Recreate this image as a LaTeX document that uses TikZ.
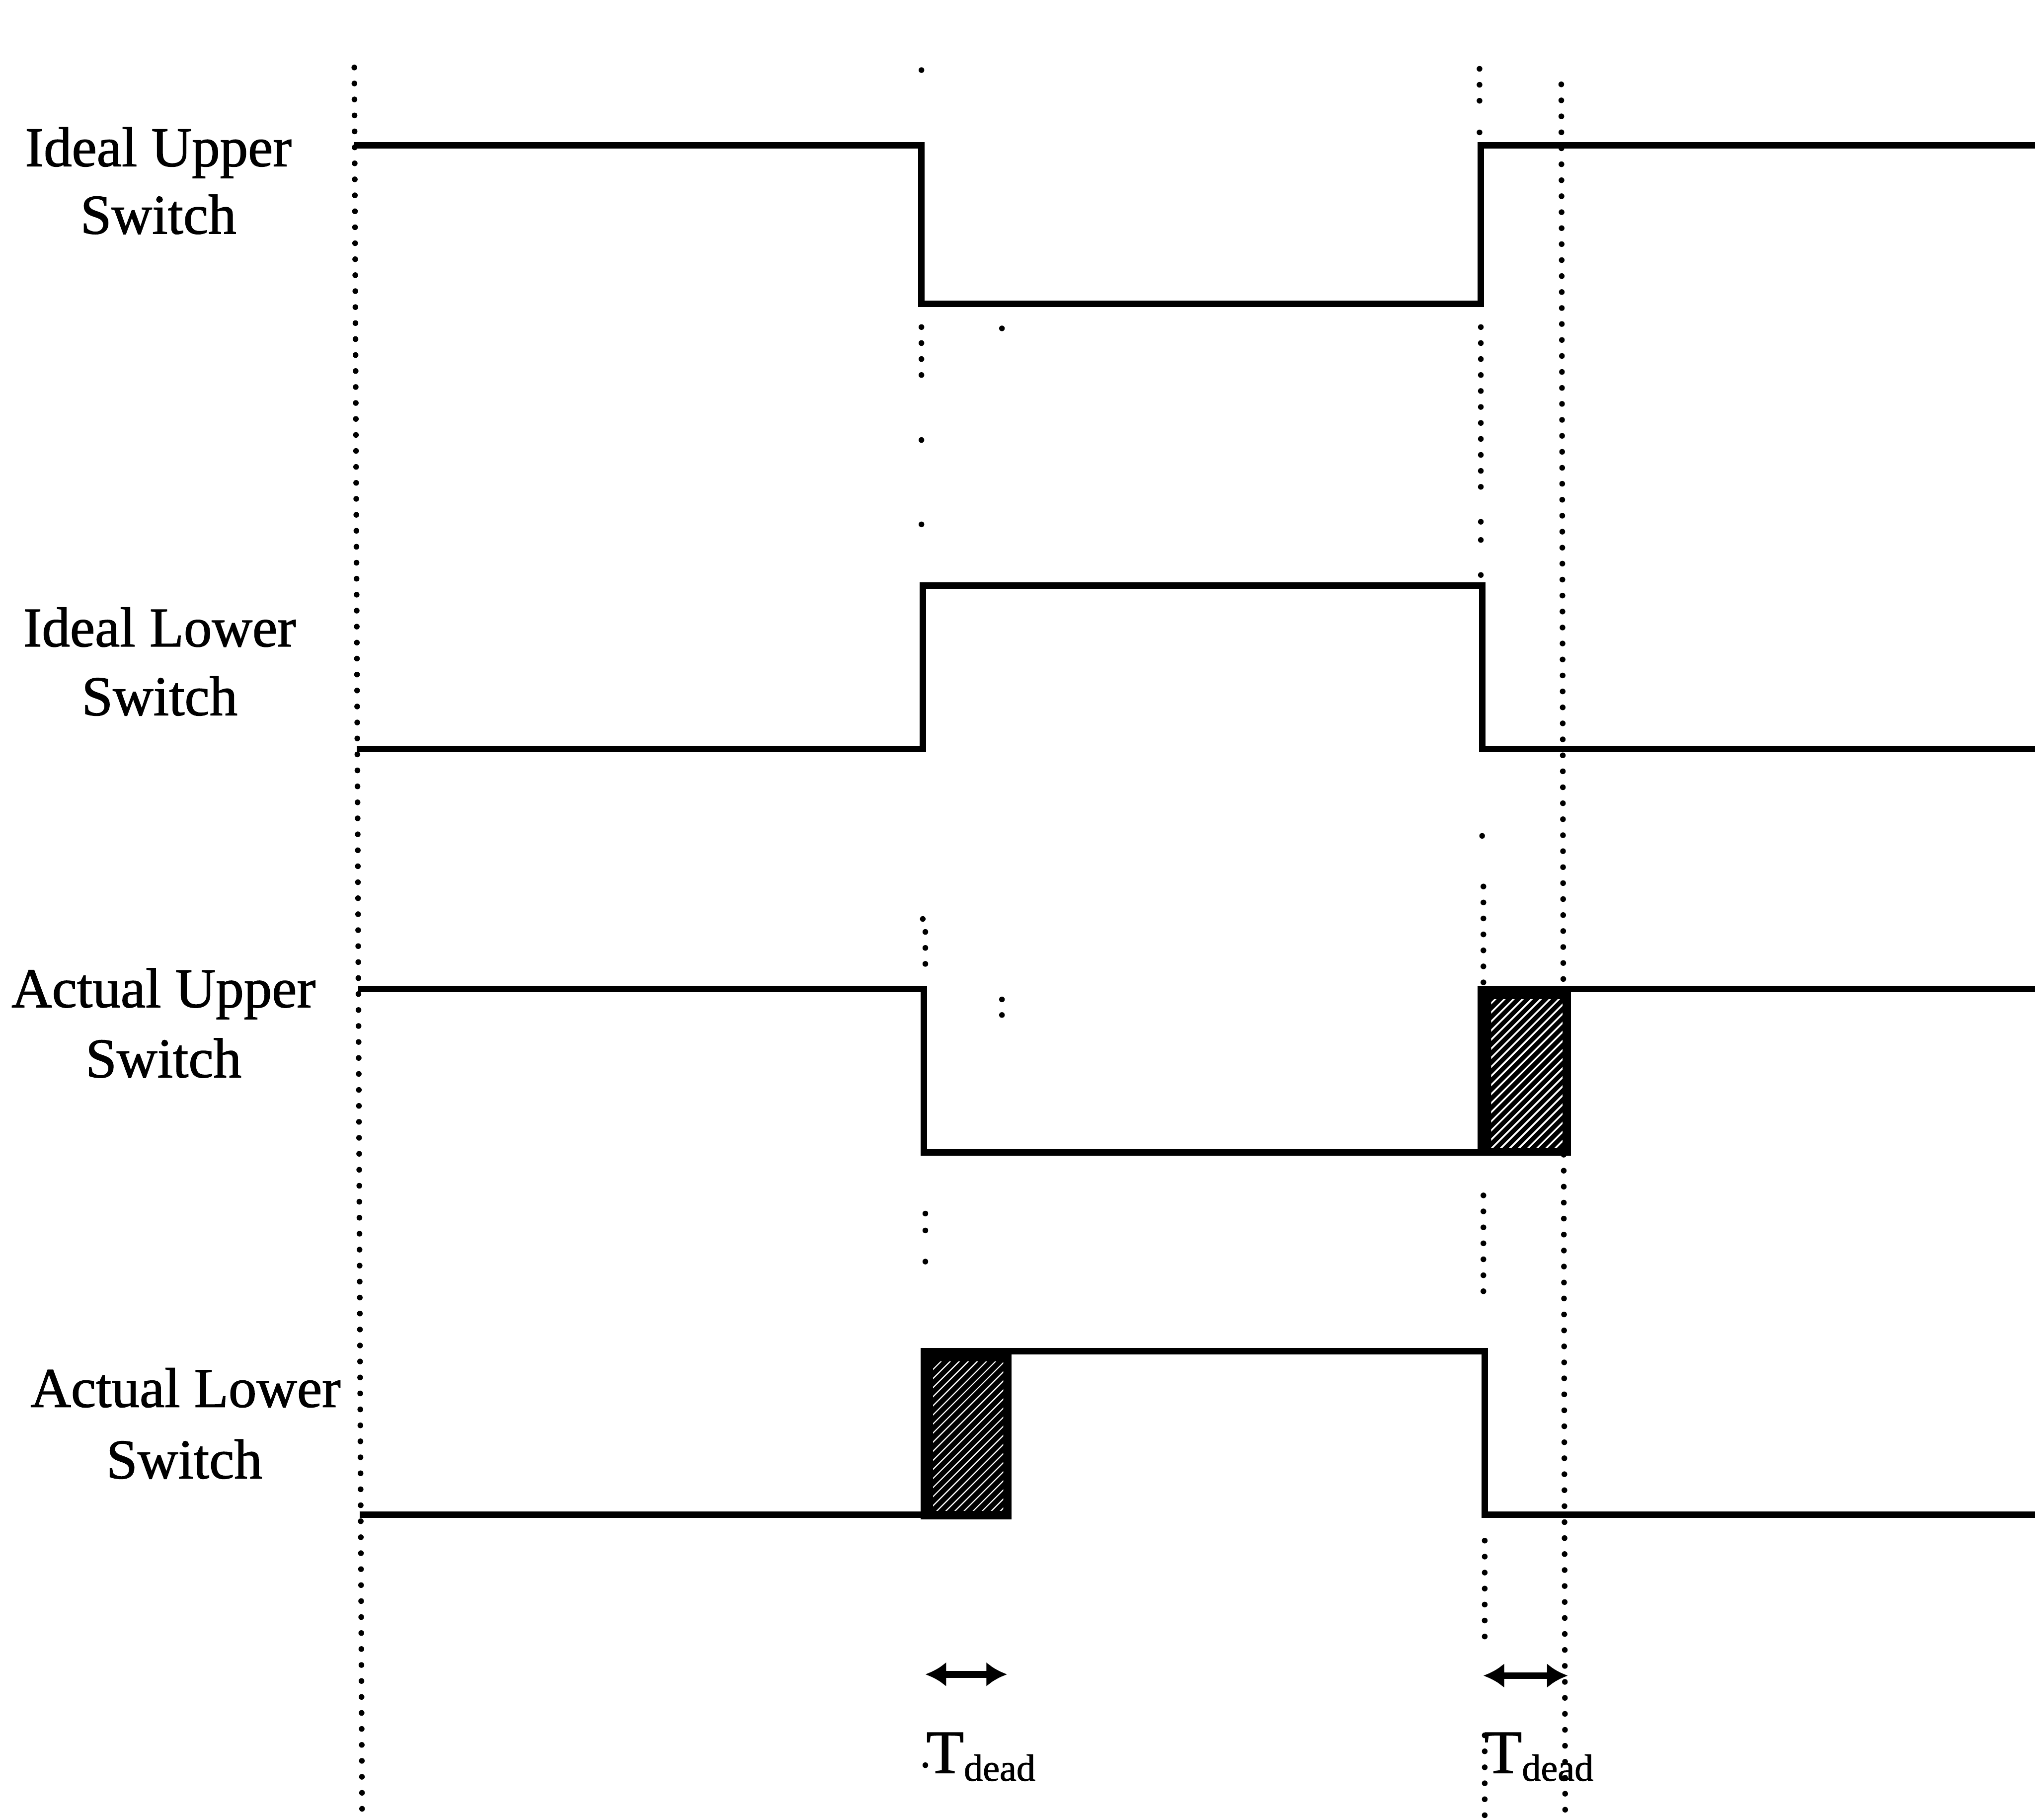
\documentclass[tikz,border=0pt]{standalone}
\usepackage{fontspec}
\setmainfont{Liberation Serif}[FakeBold=1.2]
\usetikzlibrary{arrows.meta}
\begin{document}
\begin{tikzpicture}[x=0.01cm,y=-0.01cm,
  wave/.style={line width=1.4pt, line join=miter},
  dotline/.style={line width=1.25pt, line cap=round, dash pattern=on 0pt off 3.5pt},
  dotmark/.style={fill=black},
  lbl/.style={anchor=base, inner sep=0pt, font=\fontsize{12.3}{15}\selectfont},
  tlbl/.style={anchor=base west, inner sep=0pt, font=\fontsize{13.5}{15}\selectfont},
  dimarrow/.style={line width=1.5pt, {Latex[length=0.16cm,width=0.19cm]}-{Latex[length=0.16cm,width=0.19cm]}},
  hatchbox/.style={fill=black, draw=black, line width=1.4pt}
]
\useasboundingbox (0,0) rectangle (1568,1402);

% ---- dotted guide lines ----
\draw[dotline] (273,52) -- (279,1400);
% column at the first edge
\fill[dotmark] (710,54) circle[radius=0.62pt];
\draw[dotline] (710,252) -- (710,290);
\fill[dotmark] (710,339) circle[radius=0.62pt];
\fill[dotmark] (710,404) circle[radius=0.62pt];
\fill[dotmark] (711,708) circle[radius=0.62pt];
\draw[dotline] (713,718) -- (713,745);
\fill[dotmark] (713,935) circle[radius=0.62pt];
\fill[dotmark] (713,948) circle[radius=0.62pt];
\fill[dotmark] (713,972) circle[radius=0.62pt];
\fill[dotmark] (713,1360) circle[radius=0.62pt];
% stray dots
\fill[dotmark] (772,253) circle[radius=0.62pt];
\fill[dotmark] (772,770) circle[radius=0.62pt];
\fill[dotmark] (772,782) circle[radius=0.62pt];
% column at the second edge
\draw[dotline] (1140,53) -- (1140,80);
\fill[dotmark] (1140,102) circle[radius=0.62pt];
\draw[dotline] (1141,252) -- (1141,378);
\fill[dotmark] (1141,402) circle[radius=0.62pt];
\fill[dotmark] (1141,416) circle[radius=0.62pt];
\fill[dotmark] (1141,443) circle[radius=0.62pt];
\fill[dotmark] (1142,644) circle[radius=0.62pt];
\draw[dotline] (1143,683) -- (1143,757);
\draw[dotline] (1143,921) -- (1143,996);
\draw[dotline] (1144,1187) -- (1144,1261);
\draw[dotline] (1144,1337) -- (1144,1400);
% column at the end of the second dead time
\draw[dotline] (1203,65) -- (1206,1400);

% ---- waveforms ----
% Ideal upper switch
\draw[wave] (273,112) -- (710,112) -- (710,234) -- (1141,234) -- (1141,112) -- (1568,112);
% Ideal lower switch
\draw[wave] (275,577) -- (711,577) -- (711,451) -- (1142,451) -- (1142,577) -- (1568,577);
% Actual upper switch
\draw[wave] (276,762) -- (712,762) -- (712,888) -- (1141,888);
\draw[wave] (1208,762) -- (1568,762);
\draw[hatchbox] (1141,762) rectangle (1208,888);
\begin{scope}
  \clip (1149,770) rectangle (1204,884);
  \foreach \a in {990,997,...,1215}
    \draw[white, line width=0.38pt] (\a,890) -- ++(140,-140);
\end{scope}
% Actual lower switch
\draw[wave] (277,1167) -- (712,1167);
\draw[wave] (777,1041) -- (1144,1041) -- (1144,1167) -- (1568,1167);
\draw[hatchbox] (712,1041) rectangle (777,1168);
\begin{scope}
  \clip (719,1049) rectangle (773,1164);
  \foreach \a in {590,597,...,785}
    \draw[white, line width=0.24pt] (\a,1170) -- ++(140,-140);
\end{scope}

% ---- dead time markers ----
\coordinate (d1a) at (713,1290);
\coordinate (d1b) at (776,1290);
\coordinate (d2a) at (1143,1291);
\coordinate (d2b) at (1208,1291);
\draw[dimarrow] (d1a) -- (d1b);
\draw[dimarrow] (d2a) -- (d2b);
\node[tlbl] (td1) at (713,1366) {T\raisebox{-1.7pt}{\fontsize{8.3}{9}\selectfont dead}};
\node[tlbl] (td2) at (1143,1366) {T\raisebox{-1.7pt}{\fontsize{8.3}{9}\selectfont dead}};

% ---- labels ----
\node[lbl] (iu1) at (122,128) {Ideal Upper};
\node[lbl] (iu2) at (122,180) {Switch};
\node[lbl] (il1) at (123,498) {Ideal Lower};
\node[lbl] (il2) at (123,551) {Switch};
\node[lbl] (au1) at (126,776) {Actual Upper};
\node[lbl] (au2) at (126,830) {Switch};
\node[lbl] (al1) at (143,1084) {Actual Lower};
\node[lbl] (al2) at (142,1139) {Switch};
\end{tikzpicture}
\end{document}
